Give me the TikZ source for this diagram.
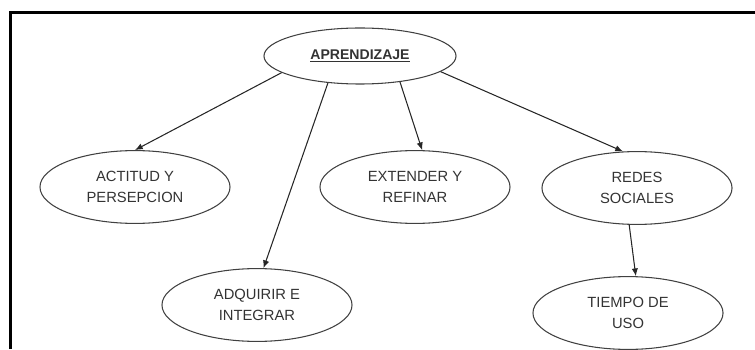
\documentclass[tikz,border=0pt]{standalone}
\usepackage{fontspec}
\setmainfont{Liberation Sans}
\usetikzlibrary{shapes.geometric, arrows.meta}
\begin{document}
\begin{tikzpicture}[x=0.025cm, y=0.025cm,
    idea/.style={draw=black!75, line width=0.75pt, ellipse, inner sep=0pt,
        minimum width=4.75cm, minimum height=1.82cm, align=center,
        font=\fontsize{10.5}{15}\selectfont, text=black!80},
    link/.style={-{Latex[length=5.5pt, width=4.5pt]}, line width=0.75pt, black!85}]
    \useasboundingbox (0, 0) rectangle (755, 349);
    % frame
    \draw[line width=1.5pt] (10.5, 0) -- (10.5, 336.5) -- (755, 336.5);
    \node[idea, minimum width=4.8cm, minimum height=1.4cm, font=\fontsize{10}{12}\selectfont\bfseries] (apr) at (360, 293) {\underline{APRENDIZAJE}};
    \node[idea] (act) at (135, 162) {ACTITUD Y\\PERSEPCION};
    \node[idea] (adq) at (257, 44) {ADQUIRIR E\\INTEGRAR};
    \node[idea] (ext) at (415, 162) {EXTENDER Y\\REFINAR};
    \node[idea] (red) at (637, 161) {REDES\\SOCIALES};
    \node[idea] (tie) at (628, 36) {TIEMPO DE\\USO};
    \draw[link] (apr.192) -- (act.north);
    \draw[link] (apr.220) -- (adq.80);
    \draw[link] (apr.327) -- (ext.79);
    \draw[link] (apr.349) -- (red.111);
    \draw[link] (red.258) -- (tie.78);
\end{tikzpicture}
\end{document}
